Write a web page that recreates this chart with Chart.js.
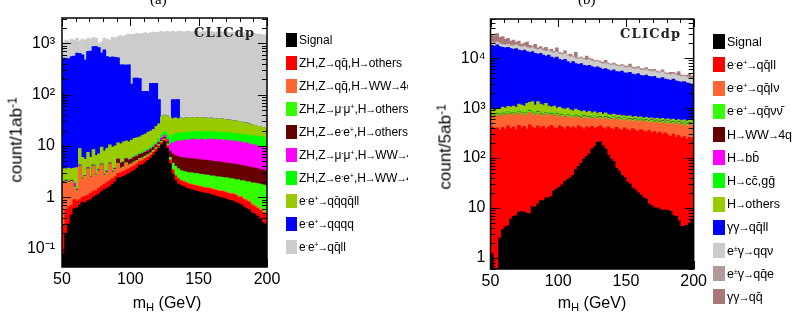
<!DOCTYPE html>
<html>
<head>
<meta charset="utf-8">
<script src="https://cdn.jsdelivr.net/npm/chart.js@4.4.1/dist/chart.umd.min.js"></script>
<style>
  body { margin: 0; background: #fff; }
  #page { position: relative; width: 798px; height: 322px; overflow: hidden; font-family: "Liberation Sans", Arial, sans-serif; color: #000; }
  canvas { position: absolute; top: 0; }
  .txt { position: absolute; white-space: nowrap; line-height: 1; }
  .panel { font-family: "Liberation Serif", serif; font-size: 15px; top: -8px; }
  .clic { font-family: "DejaVu Serif", serif; font-weight: bold; font-size: 13px; letter-spacing: 1.2px; color: #222; }
  .xtitle { font-size: 16px; transform: translateX(-50%); }
  .ytitle { font-size: 17px; transform: translate(-50%, -50%) rotate(-90deg); }
  .legend { position: absolute; top: 0; height: 322px; overflow: hidden; }
  .sw { position: absolute; left: 0; }
  .item { position: absolute; white-space: nowrap; line-height: 16px; }
  .item sup { font-size: 55%; vertical-align: 0.6em; }
  .ar { display: inline-block; margin: 0 -1px; font-size: 0.9em; }
  sup { font-size: 70%; vertical-align: 0.45em; line-height: 0; }
  sub { font-size: 70%; vertical-align: -0.3em; line-height: 0; }
</style>
</head>
<body>
<div id="page">
  <canvas id="chartA" width="285" height="322" style="left:0"></canvas>
  <canvas id="chartB" width="310" height="322" style="left:400px"></canvas>

  <div class="txt panel" style="left:150px">(a)</div>
  <div class="txt panel" style="left:578px">(b)</div>
  <div class="txt clic" style="left:194px;top:26px">CLICdp</div>
  <div class="txt clic" style="left:620px;top:27px">CLICdp</div>

  <div class="txt xtitle" style="left:167px;top:295px">m<sub>H</sub> (GeV)</div>
  <div class="txt xtitle" style="left:592px;top:295px">m<sub>H</sub> (GeV)</div>
  <div class="txt ytitle" style="left:16px;top:140px">count/1ab<sup>-1</sup></div>
  <div class="txt ytitle" style="left:445px;top:147px">count/5ab<sup>-1</sup></div>

  <div id="legendA" class="legend" style="left:286px;width:122px;font-size:12px"></div>
  <div id="legendB" class="legend" style="left:713px;width:85px;font-size:12.5px"></div>
</div>
<script>
// bin centres (2 GeV bins from 50 to 200 GeV)
const binCentres = [
  51, 53, 55, 57, 59, 61, 63, 65, 67, 69,
  71, 73, 75, 77, 79, 81, 83, 85, 87, 89,
  91, 93, 95, 97, 99, 101, 103, 105, 107, 109,
  111, 113, 115, 117, 119, 121, 123, 125, 127, 129,
  131, 133, 135, 137, 139, 141, 143, 145, 147, 149,
  151, 153, 155, 157, 159, 161, 163, 165, 167, 169,
  171, 173, 175, 177, 179, 181, 183, 185, 187, 189,
  191, 193, 195, 197, 199
];
const xTickValues = [50, 100, 150, 200];

// ---------- panel (a): upper edge of each stacked layer, count / 1 ab^-1 ----------
const namesA = [
  'Signal',
  'ZH,Z→qq̄,H→others',
  'ZH,Z→qq̄,H→WW→4q',
  'ZH,Z→μ<sup>-</sup>μ<sup>+</sup>,H→others',
  'ZH,Z→e<sup>-</sup>e<sup>+</sup>,H→others',
  'ZH,Z→μ<sup>-</sup>μ<sup>+</sup>,H→WW→4q',
  'ZH,Z→e<sup>-</sup>e<sup>+</sup>,H→WW→4q',
  'e<sup>-</sup>e<sup>+</sup>→qq̄qq̄ll',
  'e<sup>-</sup>e<sup>+</sup>→qqqq',
  'e<sup>-</sup>e<sup>+</sup>→qq̄ll'
];
const coloursA = ['#000000', '#ff0000', '#ff6633', '#33ff00', '#660000', '#ff00ff', '#00ff00', '#99cc00', '#0000ff', '#cccccc'];

const sigA = [
  0.08, 0.2, 0.3, 0.45, 0.6, 0.62, 0.7, 0.8, 0.78, 0.85,
  0.9, 1.0, 1.08, 1.15, 1.3, 1.4, 1.5, 1.6, 1.8, 2.0,
  2.4, 2.4, 2.55, 2.7, 2.9, 3.1, 3.3, 3.7, 4.2, 4.3,
  4.7, 5.2, 5.8, 6.6, 7.6, 9.0, 10.5, 12, 9, 4.5,
  2.8, 2.1, 1.8, 1.7, 1.62, 1.5, 1.45, 1.4, 1.35, 1.3,
  1.26, 1.22, 1.2, 1.18, 1.12, 1.1, 1.05, 1.0, 0.98, 0.95,
  0.9, 0.86, 0.85, 0.8, 0.75, 0.72, 0.65, 0.6, 0.57, 0.5,
  0.47, 0.43, 0.38, 0.32, 0.3
];
const zqqOthA = [
  0.3, 0.55, 0.65, 0.7, 0.9, 0.85, 0.9, 1.0, 1.05, 1.1,
  1.2, 1.3, 1.35, 1.5, 1.65, 1.8, 1.95, 2.1, 2.3, 2.5,
  2.9, 3.0, 3.2, 3.4, 3.6, 3.8, 4.1, 4.5, 5.0, 5.2,
  5.6, 6.1, 6.7, 7.5, 8.5, 10, 11.5, 13, 10, 5.3,
  3.4, 2.6, 2.3, 2.1, 2.0, 1.9, 1.8, 1.75, 1.7, 1.65,
  1.6, 1.55, 1.5, 1.5, 1.45, 1.4, 1.35, 1.3, 1.3, 1.25,
  1.2, 1.15, 1.15, 1.1, 1.0, 1.0, 0.9, 0.85, 0.8, 0.7,
  0.65, 0.6, 0.55, 0.5, 0.48
];
const zqqWWA = [
  1.9, 2.0, 1.9, 2.0, 1.5, 1.3, 4.0, 2.2, 2.5, 3.5,
  2.4, 4.0, 2.6, 3.2, 4.2, 2.6, 3.0, 4.4, 3.0, 3.4,
  4.5, 3.6, 3.8, 4.6, 4.2, 4.4, 4.8, 5.0, 5.5, 5.7,
  6.0, 6.5, 7.0, 7.8, 8.8, 10.2, 11.7, 13.2, 10.2, 5.4,
  3.5, 2.7, 2.35, 2.15, 2.05, 1.95, 1.85, 1.8, 1.75, 1.7,
  1.65, 1.6, 1.55, 1.55, 1.5, 1.45, 1.4, 1.35, 1.35, 1.3,
  1.25, 1.2, 1.2, 1.15, 1.05, 1.05, 0.95, 0.9, 0.85, 0.75,
  0.7, 0.65, 0.6, 0.55, 0.5
];
const zmmOthA = [
  1.95, 2.05, 1.95, 2.05, 1.6, 1.35, 4.1, 2.25, 2.55, 3.6,
  2.45, 4.1, 2.7, 3.3, 4.3, 2.7, 3.1, 4.5, 3.1, 3.5,
  4.6, 3.7, 3.9, 4.7, 4.3, 4.5, 4.9, 5.2, 5.7, 5.9,
  6.3, 6.8, 7.3, 8.2, 9.3, 10.7, 12.3, 13.8, 11, 6.0,
  4.6, 4.0, 3.6, 3.3, 3.2, 3.1, 3.0, 3.0, 2.9, 2.9,
  2.8, 2.8, 2.7, 2.7, 2.6, 2.6, 2.5, 2.5, 2.45, 2.4,
  2.4, 2.3, 2.3, 2.2, 2.2, 2.1, 2.1, 2.0, 2.0, 1.9,
  1.9, 1.85, 1.8, 1.75, 1.7
];
const zeeOthA = [
  2.0, 2.1, 2.0, 2.1, 1.65, 1.4, 4.2, 2.3, 2.6, 3.7,
  2.5, 4.2, 2.75, 3.4, 4.4, 2.8, 3.2, 4.6, 3.2, 3.6,
  5.5, 4.6, 4.8, 5.6, 5.3, 5.5, 6.0, 6.3, 6.8, 7.1,
  7.5, 8.0, 8.5, 9.3, 10.3, 11.5, 13, 14.5, 12, 8,
  7.0, 6.5, 6.2, 6.0, 5.9, 5.8, 5.7, 5.6, 5.6, 5.5,
  5.4, 5.3, 5.3, 5.2, 5.1, 5.0, 5.0, 4.9, 4.8, 4.7,
  4.6, 4.6, 4.5, 4.4, 4.3, 4.2, 4.1, 4.0, 3.9, 3.8,
  3.7, 3.6, 3.5, 3.4, 3.3
];
const zmmWWA = [
  2.05, 2.15, 2.05, 2.15, 1.9, 1.45, 4.3, 2.35, 2.65, 3.8,
  2.55, 4.3, 2.8, 3.5, 4.5, 2.85, 3.3, 4.7, 3.3, 3.7,
  5.6, 4.7, 4.9, 5.7, 5.4, 5.6, 6.1, 6.4, 6.9, 7.2,
  7.7, 8.2, 8.8, 9.6, 10.7, 12, 14.5, 16, 13.5, 11,
  11.5, 12, 12.5, 12.5, 13, 13, 13, 13.5, 13.5, 13,
  13.5, 13.5, 13, 13.5, 13.5, 13.5, 13, 13.5, 13, 13,
  13, 12.5, 12.5, 12.5, 12, 12, 11.5, 11.5, 11, 10.5,
  10.5, 10, 9.5, 9.5, 9
];
const zeeWWA = [
  2.1, 2.2, 2.1, 2.2, 1.95, 1.5, 4.4, 2.4, 2.7, 3.9,
  2.6, 4.4, 2.9, 3.6, 4.6, 2.9, 3.4, 4.8, 3.4, 3.8,
  5.7, 4.8, 5.0, 5.8, 5.6, 5.8, 6.4, 6.8, 7.3, 7.7,
  8.3, 8.9, 9.6, 10.5, 11.8, 14, 17, 19, 17, 15,
  16, 17, 17.5, 18, 18, 18.5, 18.5, 19, 19, 19,
  19, 19, 19, 19, 19, 19, 18.5, 18.5, 18.5, 18,
  18, 18, 17.5, 17.5, 17, 17, 16.5, 16.5, 16, 16,
  15.5, 15.5, 15, 15, 14.5
];
const qqqqllA = [
  3.6, 3.6, 3.7, 3.6, 3.7, 3.8, 8.9, 6.0, 5.5, 7.5,
  6.0, 8.5, 6.5, 7.0, 9.5, 8.0, 9.0, 10.5, 9.5, 10,
  11.5, 11, 12, 12.5, 12, 13, 14, 14.5, 15, 16,
  17, 18.5, 19.5, 21, 24, 27, 37, 40, 39, 36,
  34, 35, 34, 35, 34, 35, 36, 35, 36, 35,
  36, 35, 35, 34, 35, 34, 34, 33, 34, 33,
  32, 32, 31, 31, 30, 29, 28, 28, 27, 26,
  25, 24, 24, 23, 22
];
const qqqqA = [
  510, 510, 500, 550, 560, 640, 630, 590, 470, 690,
  700, 860, 860, 820, 640, 740, 550, 530, 540, 530,
  520, 380, 380, 375, 380, 160, 210, 210, 205, 115,
  115, 115, 165, 165, 165, 80, 37, 40, 39, 36,
  80, 80, 80, 35, 34, 35, 36, 35, 36, 35,
  36, 35, 35, 34, 35, 34, 34, 33, 34, 33,
  32, 32, 31, 31, 30, 29, 28, 28, 27, 26,
  25, 24, 24, 23, 22
];
const qqllA = [
  1050, 1150, 1100, 1200, 1150, 1250, 1100, 1200, 1150, 1250,
  1200, 1300, 1250, 1000, 1050, 1250, 1200, 1150, 1300, 1250,
  1350, 1400, 1350, 1450, 1500, 1450, 1500, 1550, 1500, 1550,
  1600, 1550, 1600, 1650, 1600, 1650, 1700, 1650, 1700, 1650,
  1700, 1650, 1700, 1700, 1650, 1700, 1700, 1650, 1700, 1700,
  1650, 1700, 1700, 1650, 1700, 1650, 1650, 1700, 1650, 1650,
  1650, 1600, 1650, 1600, 1600, 1550, 1600, 1550, 1550, 1500,
  1550, 1500, 1500, 1450, 1450
];
const yTicksA = [0.1, 1, 10, 100, 1000];
const yTickTextA = ['10⁻¹', '1', '10', '10²', '10³'];

// ---------- panel (b): upper edge of each stacked layer, count / 5 ab^-1 ----------
const namesB = [
  'Signal',
  'e<sup>-</sup>e<sup>+</sup>→qq̄ll',
  'e<sup>-</sup>e<sup>+</sup>→qq̄lν',
  'e<sup>-</sup>e<sup>+</sup>→qq̄νν̄',
  'H→WW→4q',
  'H→bb̄',
  'H→cc̄,gḡ',
  'H→others',
  'γγ→qq̄ll',
  'e<sup>±</sup>γ→qqν',
  'e<sup>±</sup>γ→qq̄e',
  'γγ→qq̄'
];
const coloursB = ['#000000', '#ff0000', '#ff6633', '#33ff00', '#660000', '#ff00ff', '#00ff00', '#99cc00', '#0000ff', '#cccccc', '#b39999', '#a87777'];

const sigB = [
  1.2, 0.3, 0.3, 2.5, 3.7, 4.2, 4.4, 6.0, 6.8, 7.0,
  8.3, 8.5, 8.2, 7.8, 7.6, 10.5, 10.5, 12, 14, 14,
  16, 16, 17, 22, 24, 26, 29, 34, 37, 40,
  45, 58, 68, 78, 95, 108, 120, 150, 170, 205,
  210, 175, 150, 115, 95, 85, 62, 55, 45, 40,
  33, 30, 25, 23, 20, 18, 16, 15, 12, 11,
  10, 10, 9.5, 9.0, 9.2, 9.0, 8.5, 7.0, 6.8, 5.5,
  4.3, 4.3, 4.5, 5.0, 6.0
];
const eeqqllB = [
  420, 380, 400, 360, 410, 380, 440, 390, 420, 370,
  450, 400, 430, 380, 460, 410, 390, 440, 400, 430,
  380, 420, 450, 400, 390, 440, 410, 380, 430, 400,
  420, 390, 440, 410, 380, 420, 400, 430, 390, 410,
  440, 400, 380, 420, 390, 370, 410, 380, 360, 400,
  370, 350, 390, 360, 340, 370, 350, 330, 360, 320,
  340, 310, 330, 300, 320, 290, 270, 300, 260, 280,
  250, 270, 240, 260, 250
];
const eeqqlvB = [
  700, 650, 720, 680, 750, 700, 780, 720, 760, 700,
  800, 740, 700, 760, 820, 750, 700, 780, 720, 690,
  760, 700, 740, 680, 720, 660, 700, 640, 690, 650,
  620, 680, 640, 600, 660, 620, 640, 600, 650, 610,
  630, 590, 640, 600, 570, 620, 580, 600, 560, 590,
  550, 580, 540, 570, 530, 560, 520, 550, 510, 540,
  500, 530, 490, 520, 480, 510, 470, 500, 460, 490,
  450, 480, 440, 470, 450
];
const eeqqvvB = [
  730, 680, 750, 710, 780, 730, 820, 750, 800, 740,
  850, 790, 740, 810, 870, 800, 740, 830, 760, 720,
  790, 730, 770, 710, 750, 690, 730, 670, 720, 680,
  650, 710, 670, 630, 690, 650, 670, 630, 680, 640,
  660, 620, 670, 630, 600, 650, 610, 630, 590, 620,
  580, 610, 570, 600, 560, 590, 550, 580, 540, 570,
  530, 560, 520, 550, 510, 540, 500, 530, 490, 520,
  480, 510, 470, 500, 480
];
const hwwB = [
  736, 686, 756, 716, 786, 736, 826, 756, 806, 746,
  856, 796, 746, 816, 876, 806, 746, 836, 766, 726,
  796, 736, 776, 716, 756, 696, 736, 676, 726, 686,
  656, 716, 676, 636, 696, 656, 676, 636, 686, 646,
  666, 626, 676, 636, 606, 656, 616, 636, 596, 626,
  586, 616, 576, 606, 566, 596, 556, 586, 546, 576,
  536, 566, 526, 556, 516, 546, 506, 536, 496, 526,
  486, 516, 476, 506, 486
];
const hbbB = [
  745, 695, 765, 725, 795, 745, 835, 765, 815, 755,
  865, 805, 755, 825, 885, 815, 755, 845, 775, 735,
  805, 745, 785, 725, 765, 705, 745, 685, 735, 695,
  665, 725, 685, 645, 705, 665, 685, 645, 695, 655,
  675, 635, 685, 645, 615, 665, 625, 645, 605, 635,
  595, 625, 585, 615, 575, 605, 565, 595, 555, 585,
  545, 575, 535, 565, 525, 555, 515, 545, 505, 535,
  495, 525, 485, 515, 495
];
const hccggB = [
  770, 720, 790, 750, 820, 770, 860, 790, 840, 780,
  890, 830, 780, 850, 910, 840, 780, 870, 800, 760,
  830, 770, 810, 750, 790, 730, 770, 710, 760, 720,
  685, 745, 705, 665, 725, 685, 705, 665, 715, 675,
  695, 655, 705, 665, 635, 685, 645, 665, 625, 655,
  610, 640, 600, 630, 590, 620, 580, 610, 570, 600,
  560, 590, 550, 580, 540, 570, 530, 560, 520, 550,
  510, 540, 500, 530, 510
];
const hothB = [
  950, 900, 980, 950, 1050, 1000, 1080, 1050, 1100, 1050,
  1200, 1150, 1100, 1250, 1300, 1350, 1150, 1350, 1200, 1150,
  1250, 1100, 1050, 1100, 1000, 1050, 980, 950, 1000, 920,
  880, 950, 900, 850, 880, 820, 860, 800, 840, 780,
  820, 760, 800, 740, 720, 760, 720, 720, 700, 700,
  680, 700, 660, 680, 650, 670, 630, 650, 620, 640,
  610, 630, 600, 620, 590, 610, 580, 600, 570, 590,
  560, 580, 550, 570, 560
];
const ggqqllB = [
  18000, 17500, 18500, 17000, 16500, 16000, 16500, 15500, 15000, 15500,
  14500, 14000, 14500, 13500, 13000, 13500, 12500, 12000, 12500, 11500,
  11000, 11500, 10500, 10000, 10500, 9500, 9000, 9500, 8500, 8000,
  8500, 7800, 7500, 7800, 7200, 7000, 7200, 6800, 6500, 6700,
  6300, 6000, 6200, 5800, 5600, 5800, 5400, 5300, 5500, 5100,
  5000, 5200, 4800, 4700, 4900, 4500, 4400, 4600, 4300, 4200,
  4300, 4000, 3900, 4100, 3800, 3700, 3600, 3800, 3500, 3400,
  3300, 3400, 3200, 3100, 3000
];
const egqqvB = [
  20000, 19500, 20500, 19000, 18500, 18000, 18500, 17500, 17500, 18000,
  17000, 16500, 17000, 16000, 15500, 16000, 15000, 14500, 15000, 14000,
  13500, 14000, 13000, 12500, 13000, 12000, 11500, 12000, 11000, 10500,
  10500, 9800, 9500, 9800, 9200, 9000, 9200, 8600, 8300, 8500,
  8000, 7600, 7800, 7400, 7100, 7300, 6900, 6700, 6900, 6500,
  6300, 6500, 6100, 6000, 6200, 5700, 5600, 5800, 5500, 5300,
  5400, 5100, 5000, 5200, 4800, 4700, 4600, 4800, 4500, 4300,
  4200, 4300, 4100, 3900, 3800
];
const egqqeB = [
  21000, 20500, 21500, 20000, 19400, 18900, 19400, 18400, 18400, 18900,
  17800, 17300, 17800, 16800, 16300, 16800, 15700, 15200, 15700, 14700,
  14200, 14700, 13600, 13100, 13600, 12600, 12100, 12600, 11500, 11000,
  11000, 10300, 10000, 10300, 9700, 9400, 9700, 9000, 8700, 8900,
  8400, 8000, 8200, 7800, 7500, 7700, 7200, 7000, 7200, 6800,
  6600, 6800, 6400, 6300, 6500, 6000, 5900, 6100, 5800, 5600,
  5700, 5400, 5200, 5500, 5000, 4900, 4800, 5000, 4700, 4500,
  4400, 4500, 4300, 4100, 4000
];
const ggqqB = [
  30000, 28000, 31000, 26000, 27000, 24000, 25000, 22000, 23000, 21000,
  22000, 19000, 20000, 21000, 18000, 17500, 19000, 16000, 17000, 15500,
  16500, 14500, 15000, 13500, 16000, 13000, 12500, 14000, 11500, 12000,
  11000, 13000, 10000, 10500, 9800, 11000, 9900, 9500, 8900, 9000,
  8600, 8200, 9000, 8000, 7600, 8000, 7400, 7200, 7400, 7000,
  6800, 7600, 6600, 6500, 6800, 6200, 6100, 6500, 6000, 5800,
  6000, 5500, 5300, 5800, 5100, 5000, 5200, 5200, 4900, 5400,
  4600, 4600, 4500, 4800, 4300
];
const yTicksB = [1, 10, 100, 1000, 10000];
const yTickTextB = ['1', '10', '10²', '10³', '10⁴'];

Chart.defaults.font.family = '"Liberation Sans", Arial, sans-serif';
Chart.defaults.color = '#000';

// ROOT-style frame: inward major/minor ticks on all four sides
const frameTicks = {
  id: 'frameTicks',
  afterDatasetsDraw(chart) {
    const { ctx, chartArea: a, scales: { x, y } } = chart;
    ctx.save();
    ctx.strokeStyle = '#000';
    ctx.lineWidth = 1;
    ctx.beginPath();
    for (let v = 50; v <= 200; v += 10) {
      const px = Math.round(x.getPixelForValue(v)) + 0.5;
      const len = v % 50 === 0 ? 8 : 4;
      ctx.moveTo(px, a.top); ctx.lineTo(px, a.top + len);
      ctx.moveTo(px, a.bottom); ctx.lineTo(px, a.bottom - len);
    }
    const d0 = Math.floor(Math.log10(y.min));
    const d1 = Math.ceil(Math.log10(y.max));
    for (let d = d0; d <= d1; d++) {
      for (let m = 1; m < 10; m++) {
        const v = m * Math.pow(10, d);
        if (v < y.min || v > y.max) continue;
        const py = Math.round(y.getPixelForValue(v)) + 0.5;
        const len = m === 1 ? 9 : 5;
        ctx.moveTo(a.left, py); ctx.lineTo(a.left + len, py);
        ctx.moveTo(a.right, py); ctx.lineTo(a.right - len, py);
      }
    }
    ctx.stroke();
    ctx.lineWidth = 1.5;
    ctx.strokeRect(a.left, a.top, a.right - a.left, a.bottom - a.top);
    ctx.restore();
  }
};

function makeChart(canvasId, colours, layers, yMin, yMax, yTicks, yTickText, geom) {
  const datasets = layers.map((data, k) => ({
    data: data,
    backgroundColor: colours[k],
    borderWidth: 0,
    grouped: false,
    barPercentage: 1,
    categoryPercentage: 1,
    inflateAmount: 0.4,
    clip: 0
  }));
  return new Chart(document.getElementById(canvasId), {
    type: 'bar',
    data: { labels: binCentres, datasets: datasets },
    options: {
      responsive: false,
      animation: false,
      events: [],
      layout: { padding: { top: geom.top, right: geom.right, left: 0, bottom: 0 } },
      plugins: { legend: { display: false }, tooltip: { enabled: false } },
      scales: {
        x: {
          type: 'linear', min: 50, max: 200, offset: false,
          grid: { display: false, drawTicks: false }, border: { display: false },
          afterBuildTicks: (s) => { s.ticks = xTickValues.map((v) => ({ value: v })); },
          afterFit: (s) => { s.height = geom.xHeight; },
          ticks: { font: { size: 16 }, padding: 3, maxRotation: 0, autoSkip: false }
        },
        y: {
          type: 'logarithmic', min: yMin, max: yMax,
          grid: { display: false, drawTicks: false }, border: { display: false },
          afterBuildTicks: (s) => { s.ticks = yTicks.map((v) => ({ value: v })); },
          afterFit: (s) => { s.width = geom.yWidth; },
          ticks: { font: { size: 16 }, padding: geom.yPad, autoSkip: false,
                   callback: (v, i) => yTickText[i] }
        }
      }
    },
    plugins: [frameTicks]
  });
}

function buildLegend(id, names, colours, firstCentre, step, sw) {
  const el = document.getElementById(id);
  names.forEach((name, k) => {
    const cy = firstCentre + step * k;
    const box = document.createElement('div');
    box.className = 'sw';
    box.style.top = (cy - sw.h / 2) + 'px';
    box.style.width = sw.w + 'px';
    box.style.height = sw.h + 'px';
    box.style.background = colours[k];
    el.appendChild(box);
    const t = document.createElement('div');
    t.className = 'item';
    t.style.left = sw.textX + 'px';
    t.style.top = (cy - 8) + 'px';
    t.innerHTML = name.replace(/→/g, '<span class="ar">→</span>');
    el.appendChild(t);
  });
}

makeChart('chartA', coloursA,
  [sigA, zqqOthA, zqqWWA, zmmOthA, zeeOthA, zmmWWA, zeeWWA, qqqqllA, qqqqA, qqllA],
  0.044, 3100, yTicksA, yTickTextA,
  { top: 18, right: 18, xHeight: 55, yWidth: 62, yPad: 7 });

makeChart('chartB', coloursB,
  [sigB, eeqqllB, eeqqlvB, eeqqvvB, hwwB, hbbB, hccggB, hothB, ggqqllB, egqqvB, egqqeB, ggqqB],
  0.61, 61000, yTicksB, yTickTextB,
  { top: 19, right: 15, xHeight: 53, yWidth: 90.5, yPad: 5 });

buildLegend('legendA', namesA, coloursA, 39.7, 23, { w: 11, h: 14, textX: 13 });
buildLegend('legendB', namesB, coloursB, 41.7, 23.2, { w: 12, h: 15, textX: 14 });
</script>
</body>
</html>
